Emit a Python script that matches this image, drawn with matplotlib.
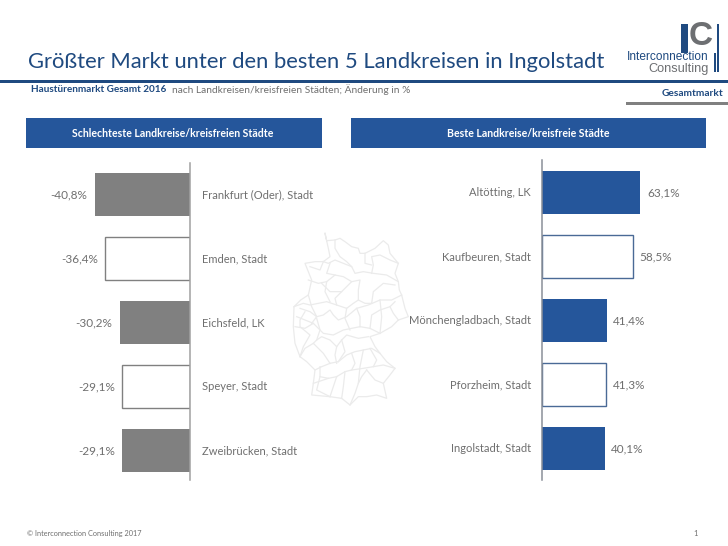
import matplotlib
matplotlib.use("Agg")
import matplotlib.pyplot as plt

plt.rcParams['font.family'] = ['Lato', 'DejaVu Sans']

W, H = 728, 546

worst_names = ["Frankfurt (Oder), Stadt", "Emden, Stadt", "Eichsfeld, LK", "Speyer, Stadt", "Zweibrücken, Stadt"]
worst_values = [-40.8, -36.4, -30.2, -29.1, -29.1]
best_names = ["Altötting, LK", "Kaufbeuren, Stadt", "Mönchengladbach, Stadt", "Pforzheim, Stadt", "Ingolstadt, Stadt"]
best_values = [63.1, 58.5, 41.4, 41.3, 40.1]
title = "Größter Markt unter den besten 5 Landkreisen in Ingolstadt"

BLUE = "#25569b"
DARK = "#1f4a80"
GREY = "#808080"
TXT = "#6f6f6f"

fig = plt.figure(figsize=(W / 100, H / 100), dpi=100, facecolor="white")
bg = fig.add_axes([0, 0, 1, 1])
bg.set_xlim(0, W)
bg.set_ylim(H, 0)
bg.axis("off")


def rect(x0, y0, x1, y1, c):
    bg.fill([x0, x1, x1, x0], [y0, y0, y1, y1], color=c, lw=0)


# decorative map of Germany (coordinates of the zoomed crop)
def mp(pts):
    xs = [280 + p[0] / 3 for p in pts]
    ys = [220 + p[1] / 3 for p in pts]
    bg.plot(xs, ys, color="#ebebeb", lw=0.9, zorder=0, solid_joinstyle="round")


mp([(135,40),(140,62),(165,60),(180,55),(195,65),(215,80),(235,85),(240,100),(255,100),(285,85),(310,62),(325,75),
    (330,100),(355,130),(345,160),(355,185),(358,210),(365,225),(375,265),(385,290),(355,300),(335,320),(300,340),
    (270,350),(285,380),(300,400),(320,425),(345,445),(330,465),(310,490),(320,535),(290,525),(260,530),(235,530),
    (210,555),(185,535),(150,530),(95,525),(100,490),(105,450),(80,425),(60,410),(45,370),(40,320),(42,260),(62,240),
    (85,225),(95,180),(75,130),(105,125),(130,125),(150,110),(145,85),(135,40)])
for line in [
    [(130,125),(145,130),(165,120),(190,130),(215,140),(225,160),(250,155),(280,160),(320,165),(355,185)],
    [(85,180),(115,190),(140,185),(165,165),(190,170),(215,185),(240,180),(235,210),(235,240),(255,250),(275,250),(280,215),(310,190),(345,195)],
    [(42,260),(70,250),(90,255),(115,250),(140,245),(170,255),(200,265),(220,250),(235,240)],
    [(85,225),(95,260),(110,290),(130,285),(150,270),(160,285),(175,300),(200,290),(230,265),(265,255),(300,240),(335,240),(365,225)],
    [(45,320),(75,325),(100,310),(115,325),(130,340),(160,345),(190,330),(215,325),(240,320),(270,325),(300,340)],
    [(60,410),(75,385),(100,370),(110,360),(125,350),(150,360),(170,380),(185,360),(200,345),(235,355),(265,350)],
    [(105,450),(125,440),(150,430),(175,425),(200,405),(225,395),(250,390),(275,385),(300,400)],
    [(150,530),(160,500),(170,470),(195,455),(215,450),(250,445),(280,440),(310,435),(345,445)],
    [(210,555),(225,520),(235,490),(245,470),(260,450)],
    [(100,370),(115,385),(130,400),(140,415),(150,430)],
    [(165,60),(165,85),(180,110),(200,125),(215,140)],
    [(275,160),(280,135),(275,110),(300,105),(330,120),(355,130)],
    [(140,185),(135,215),(150,245)],
    [(200,265),(195,295),(210,330)],
    [(300,240),(305,290),(300,340)],
    [(330,260),(340,280),(355,300)],
    [(170,380),(165,405),(170,430)],
    [(120,470),(145,475),(170,470)],
    [(250,390),(240,440),(235,490)],
    [(75,275),(60,300),(60,320),(90,345),(70,380),(60,410)],
    [(60,265),(90,275),(110,290),(95,310)],
    [(50,290),(75,300),(100,310)],
    [(110,360),(120,330),(110,295)],
    [(185,215),(165,235),(170,255)],
    [(125,190),(150,215),(185,215),(215,185)],
    [(270,325),(275,285),(300,270),(330,260),(345,245)],
    [(230,265),(240,290),(240,320)],
    [(185,360),(195,395),(175,425)],
    [(215,400),(225,430),(215,450)],
    [(270,385),(290,420),(280,440)],
    [(100,490),(130,480),(145,475)],
    [(120,440),(120,470),(110,510),(150,530)],
    [(195,455),(190,500),(185,535)],
    [(260,450),(285,480),(310,490)],
    [(255,100),(255,130),(275,135)],
    [(90,140),(120,150),(130,125)],
    [(150,130),(140,160),(165,165)],
]:
    mp(line)

# title block
bg.text(28, 62, title, fontsize=15.8, color=DARK, va="center", ha="left", fontweight="normal")
rect(0, 80, W, 82.5, DARK)
rect(626, 102, W, 105, GREY)
bg.text(723, 94, "Gesamtmarkt", fontsize=7.3, color=DARK, va="center", ha="right", fontweight="bold")
bg.text(31, 90, "Haustürenmarkt Gesamt 2016", fontsize=7.2, color=DARK, va="center", ha="left", fontweight="bold")
bg.text(172, 90, "nach Landkreisen/kreisfreien Städten; Änderung in %", fontsize=7.3, color=TXT, va="center", ha="left")

# logo
rect(681, 24, 688, 53, DARK)
bg.text(689, 36.5, "C", fontsize=24, color="#6d6f72", fontweight="bold", va="center", ha="left", family="Liberation Sans")
bg.text(709, 56.5, "Interconnection", fontsize=8.6, color=DARK, va="center", ha="right", family="Liberation Sans")
bg.text(709, 69, "Consulting", fontsize=9.2, color="#6d6f72", va="center", ha="right", family="Liberation Sans")
rect(716.5, 24, 718.5, 72, DARK)
rect(713.5, 53, 715.5, 72, DARK)

# panel headers
rect(26, 118, 322, 148, BLUE)
rect(351, 118, 706, 148, BLUE)
bg.text(173, 133.5, "Schlechteste Landkreise/kreisfreien Städte", fontsize=7.6, color="white", va="center", ha="center", fontweight="bold")
bg.text(528, 133.5, "Beste Landkreise/kreisfreie Städte", fontsize=7.6, color="white", va="center", ha="center", fontweight="bold")

# footer
bg.text(27, 533.5, "© Interconnection Consulting 2017", fontsize=5.3, color=TXT, va="center", ha="left")
bg.text(698, 533.5, "1", fontsize=5.5, color=TXT, va="center", ha="right")


def panel(x0, x1, y0, y1):
    a = fig.add_axes([x0 / W, 1 - y1 / H, (x1 - x0) / W, (y1 - y0) / H], facecolor="none")
    for s in a.spines.values():
        s.set_visible(False)
    a.set_xticks([])
    a.set_yticks([])
    return a


# left panel
ax = panel(40, 190.5, 163, 480)
ax.set_ylim(4.461, -0.492)
ax.set_xlim(-150.5 / 2.35, 0)
for i, (n, v) in enumerate(zip(worst_names, worst_values)):
    filled = i % 2 == 0
    ax.barh(i, v, height=0.67, color=GREY if filled else "white",
            edgecolor=GREY, linewidth=1.0 if not filled else 0, zorder=2)
    ax.annotate(f"{v:.1f}%".replace(".", ","), (v, i), xytext=(-7, 0), textcoords="offset pixels",
                ha="right", va="center", fontsize=8.5, color=TXT)
    ax.annotate(n, (0, i), xytext=(11.5, 0), textcoords="offset pixels", ha="left", va="center",
                fontsize=8, color=TXT, annotation_clip=False)
ax.axvline(0, color="#a0a0a0", lw=1.1, zorder=3, clip_on=False)

# right panel
ax = panel(542, 705, 160, 480)
ax.set_ylim(4.492, -0.508)
ax.set_xlim(0, 163 / 1.56)
for i, (n, v) in enumerate(zip(best_names, best_values)):
    filled = i % 2 == 0
    ax.barh(i, v, height=0.67, color=BLUE if filled else "white",
            edgecolor="#4a6a96", linewidth=1.0 if not filled else 0, zorder=2)
    ax.annotate(f"{v:.1f}%".replace(".", ","), (v, i), xytext=(6.5, 0), textcoords="offset pixels",
                ha="left", va="center", fontsize=8.5, color=TXT)
    ax.annotate(n, (0, i), xytext=(-11, 0), textcoords="offset pixels", ha="right", va="center",
                fontsize=8, color=TXT, annotation_clip=False)
ax.axvline(0, color="#8a8f98", lw=1.1, zorder=3, clip_on=False)

fig.savefig("out.png", dpi=100)
